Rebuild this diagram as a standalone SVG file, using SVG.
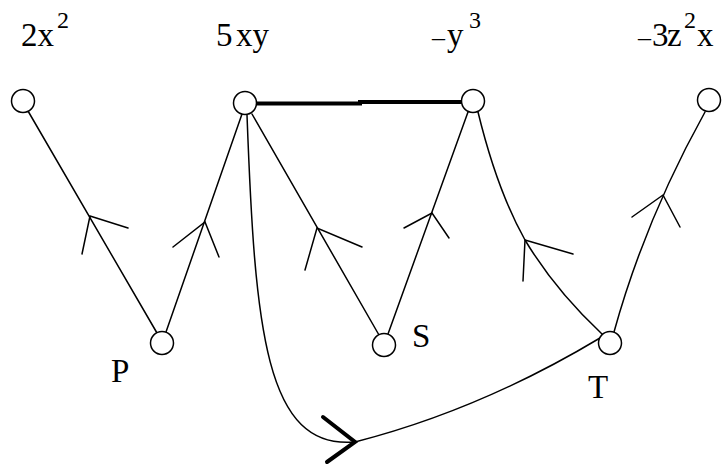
<svg xmlns="http://www.w3.org/2000/svg" width="725" height="465" viewBox="0 0 725 465">
<style>
.e{fill:none;stroke:#000;stroke-width:1.5;stroke-linecap:round;stroke-linejoin:round}
.a{fill:none;stroke:#000;stroke-width:1.5;stroke-linecap:round;stroke-linejoin:miter}
.thick{fill:none;stroke:#000;stroke-width:4}
.big{fill:none;stroke:#000;stroke-width:4;stroke-linecap:round;stroke-linejoin:miter}
.n{fill:#fff;stroke:#000;stroke-width:1.5}
.t{font-family:"Liberation Serif","Times New Roman",serif;font-size:33px;fill:#000}
.sup{font-size:24px}
.dash{font-size:26px}
</style>
<rect width="725" height="465" fill="#fff"/>
<g id="connectors">
  <!-- P -> 2x^2 -->
  <path class="e" d="M157,333 L28,111"/>
  <path class="a" d="M128,228 L90,216 L82,254"/>
  <!-- P -> 5xy -->
  <path class="e" d="M166,332 L242,114"/>
  <path class="a" d="M173,247 L205,222 L219,257"/>
  <!-- 5xy -> S -->
  <path class="e" d="M252,114 L379,335"/>
  <path class="a" d="M362,247 L317,228 L305,270"/>
  <!-- S -> -y^3 -->
  <path class="e" d="M388,334 L468,112"/>
  <path class="a" d="M404,228 L432,213 L449,238"/>
  <!-- -y^3 -> T (curved) -->
  <path class="e" d="M478,112 Q497,190 525,240 Q555,290 602,334"/>
  <path class="a" d="M573,254 L525,240 L523,281"/>
  <!-- T -> -3z^2x -->
  <path class="e" d="M614,332 Q645,220 705,112"/>
  <path class="a" d="M632,217 L663,195 L680,227"/>
  <!-- 5xy -> T via bottom curve -->
  <path class="e" d="M247,115 C255,330 265,450 355,442 Q480,410 600,338"/>
  <path class="big" d="M323,417 L355,442 L327,462"/>
  <!-- 5xy == -y^3 thick -->
  <path class="thick" d="M257,103.5 L360,103.5 L360,102 L462,102"/>
</g>
<g id="node-2x2">
  <circle class="n" cx="23" cy="101" r="11.5"/>
  <text class="t" x="21" y="46">2x<tspan class="sup" x="57" y="28">2</tspan></text>
</g>
<g id="node-5xy">
  <circle class="n" cx="245" cy="103" r="11.5"/>
  <text class="t" x="216" y="46">5<tspan x="236">xy</tspan></text>
</g>
<g id="node-y3">
  <circle class="n" cx="473" cy="101" r="11.5"/>
  <text class="t" x="432" y="46"><tspan class="dash">–</tspan><tspan x="447">y</tspan><tspan class="sup" x="469" y="28">3</tspan></text>
</g>
<g id="node-3z2x">
  <circle class="n" cx="709" cy="100" r="11.5"/>
  <text class="t" x="638" y="46"><tspan class="dash">–</tspan><tspan x="652">3</tspan><tspan x="667">z</tspan><tspan class="sup" x="684" y="28">2</tspan><tspan x="697" y="46">x</tspan></text>
</g>
<g id="node-P">
  <circle class="n" cx="162" cy="343" r="11.5"/>
  <text class="t" x="111" y="382">P</text>
</g>
<g id="node-S">
  <circle class="n" cx="384" cy="345" r="11.5"/>
  <text class="t" x="412" y="347">S</text>
</g>
<g id="node-T">
  <circle class="n" cx="610" cy="343" r="11.5"/>
  <text class="t" x="588" y="398">T</text>
</g>
</svg>
